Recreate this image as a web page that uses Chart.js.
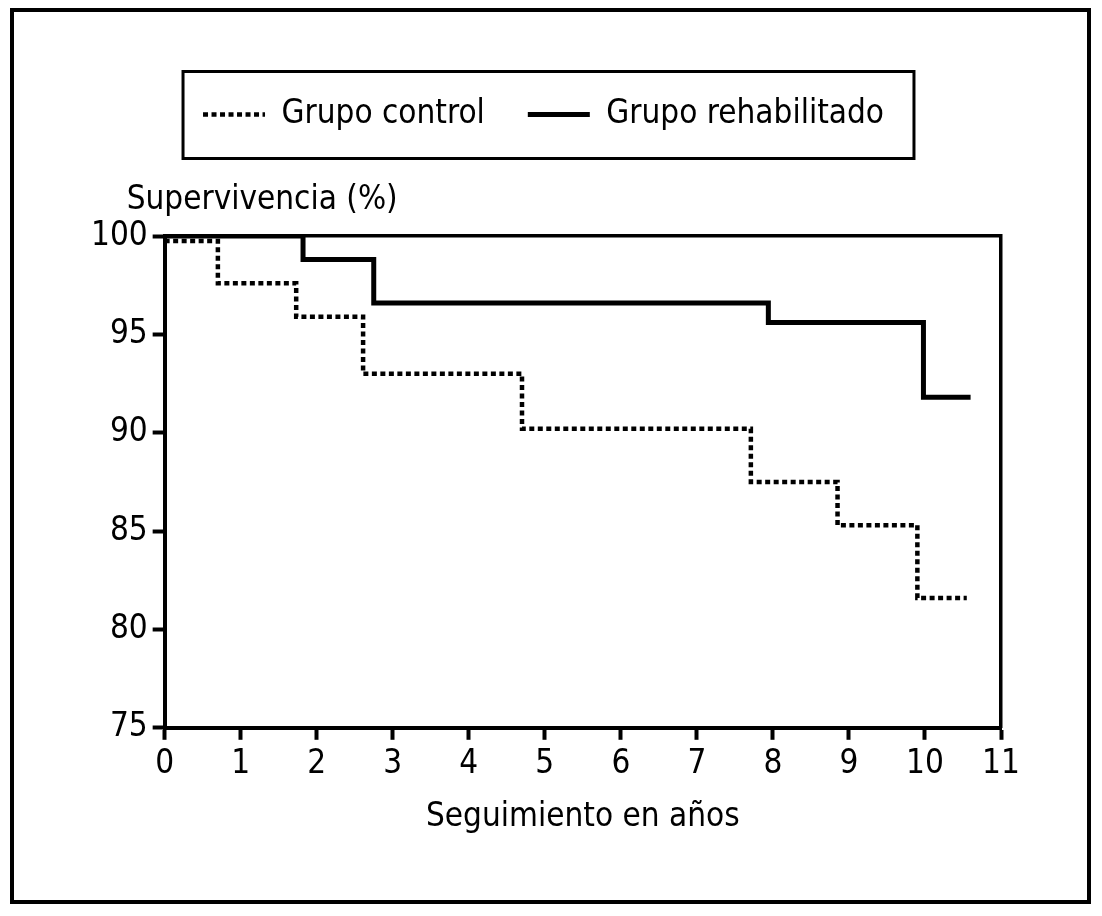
<!DOCTYPE html>
<html>
<head>
<meta charset="utf-8">
<script src="https://cdn.jsdelivr.net/npm/chart.js@4.4.0/dist/chart.umd.min.js"></script>
<style>
  html, body { margin: 0; padding: 0; background: #fff; }
  #frame { position: absolute; left: 10px; top: 8px; width: 1073px; height: 888px; border: 4px solid #000; }
  #wrap { position: absolute; left: 0; top: 0; width: 1102px; height: 916px; }
</style>
</head>
<body>
<div id="frame"></div>
<div id="wrap"><canvas id="km"></canvas></div>
<script>
  // Kaplan-Meier curves (years, % surviving)
  const controlYears = [0, 0.70, 1.73, 2.61, 4.70, 7.71, 8.85, 9.90, 10.55];
  const controlSurv  = [99.75, 97.6, 95.9, 93.0, 90.2, 87.5, 85.3, 81.6, 81.6];

  const rehabYears = [0, 1.82, 2.75, 7.94, 9.98, 10.6];
  const rehabSurv  = [100, 98.8, 96.6, 95.6, 91.8, 91.8];

  const xTicks = [0, 1, 2, 3, 4, 5, 6, 7, 8, 9, 10, 11];
  const yTicks = [75, 80, 85, 90, 95, 100];

  const FONT = '"Liberation Sans Narrow", "Arial Narrow", "DejaVu Sans Condensed", sans-serif';
  const FONT_SIZE = 33;

  const toPoints = (xs, ys) => xs.map((x, i) => ({ x: x, y: ys[i] }));

  const legendBox = {
    id: 'legendBox',
    afterDraw(chart) {
      const hb = chart.legend.legendHitBoxes;
      if (!hb || !hb.length) return;
      const last = hb[hb.length - 1];
      const left = hb[0].left - 20;
      const right = last.left + last.width + 30;
      const cy = hb[0].top + hb[0].height / 2;
      const ctx = chart.ctx;
      ctx.save();
      ctx.lineWidth = 3;
      ctx.strokeStyle = '#000';
      ctx.strokeRect(left, cy - 43, right - left, 87);
      ctx.restore();
    }
  };

  const yLabel = {
    id: 'yLabel',
    afterDraw(chart) {
      const a = chart.chartArea;
      const ctx = chart.ctx;
      ctx.save();
      ctx.font = FONT_SIZE + 'px ' + FONT;
      ctx.fillStyle = '#000';
      ctx.textBaseline = 'middle';
      ctx.textAlign = 'left';
      ctx.fillText('Supervivencia (%)', a.left - 38, a.top - 36);
      ctx.restore();
    }
  };

  Chart.defaults.color = '#000';
  Chart.defaults.font.family = FONT;
  Chart.defaults.font.size = FONT_SIZE;

  new Chart(document.getElementById('km'), {
    type: 'line',
    data: {
      datasets: [{
        label: 'Grupo control',
        data: toPoints(controlYears, controlSurv),
        borderColor: '#000',
        backgroundColor: '#000',
        borderWidth: 4.5,
        borderDash: [5, 3.5],
        stepped: true,
        pointRadius: 0,
        fill: false
      }, {
        label: 'Grupo rehabilitado',
        data: toPoints(rehabYears, rehabSurv),
        borderColor: '#000',
        backgroundColor: '#000',
        borderWidth: 5,
        stepped: true,
        pointRadius: 0,
        fill: false
      }]
    },
    options: {
      responsive: true,
      maintainAspectRatio: false,
      animation: false,
      layout: { padding: { top: 55, left: 86, right: 101, bottom: 79 } },
      plugins: {
        tooltip: { enabled: false },
        legend: {
          position: 'top',
          labels: {
            usePointStyle: true,
            pointStyle: 'line',
            pointStyleWidth: 62,
            padding: 43,
            color: '#000',
            font: { size: FONT_SIZE },
            generateLabels(chart) {
              const items = Chart.defaults.plugins.legend.labels.generateLabels(chart);
              return items.map(it => {
                const ds = chart.data.datasets[it.datasetIndex];
                it.lineDash = ds.borderDash || [];
                it.lineWidth = ds.borderWidth;
                it.strokeStyle = '#000';
                it.pointStyle = 'line';
                return it;
              });
            }
          }
        }
      },
      scales: {
        x: {
          type: 'linear',
          min: 0,
          max: 11,
          afterBuildTicks: s => { s.ticks = xTicks.map(v => ({ value: v })); },
          ticks: { padding: 5, maxRotation: 0, autoSkip: false },
          grid: { drawOnChartArea: false, tickLength: 12, tickWidth: 4, tickColor: '#000' },
          border: { display: true, color: '#000', width: 4 },
          title: { display: true, text: 'Seguimiento en años', padding: { top: 8, bottom: 0 } }
        },
        y: {
          min: 75,
          max: 100,
          afterBuildTicks: s => { s.ticks = yTicks.map(v => ({ value: v })); },
          ticks: { padding: 5 },
          grid: { drawOnChartArea: false, tickLength: 12, tickWidth: 4, tickColor: '#000' },
          border: { display: true, color: '#000', width: 4 }
        },
        x2: {
          type: 'linear',
          position: 'top',
          min: 0,
          max: 11,
          ticks: { display: false },
          grid: { display: false, drawTicks: false },
          border: { display: true, color: '#000', width: 3.5 },
          afterFit: s => { s.height = 95; }
        },
        y2: {
          position: 'right',
          min: 75,
          max: 100,
          ticks: { display: false },
          grid: { display: false, drawTicks: false },
          border: { display: true, color: '#000', width: 3.5 }
        }
      }
    },
    plugins: [legendBox, yLabel]
  });
</script>
</body>
</html>
